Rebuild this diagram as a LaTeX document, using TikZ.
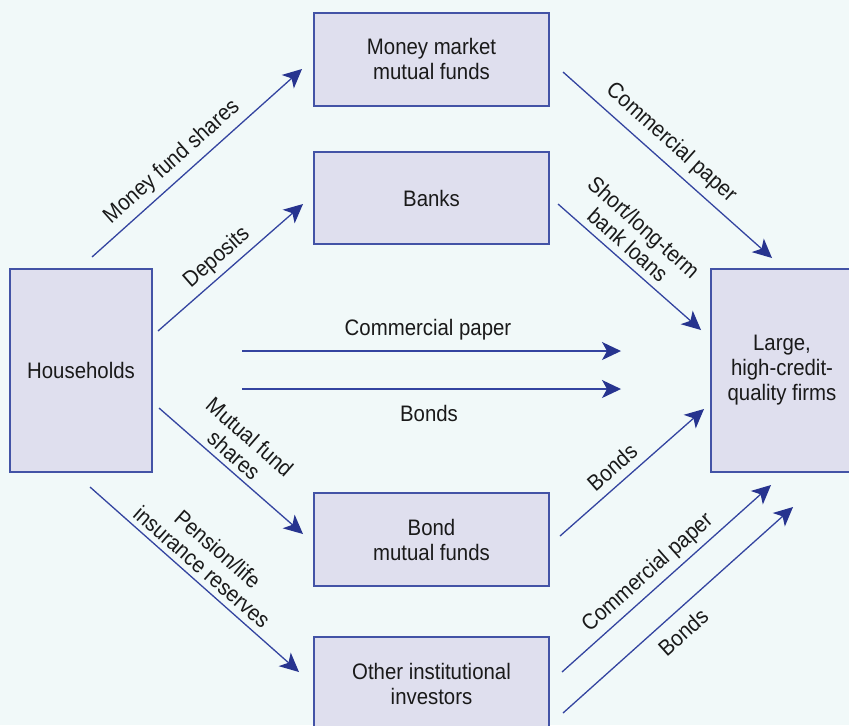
\documentclass[tikz,border=0pt]{standalone}
\usepackage{fontspec}
\setmainfont[FakeStretch=0.91]{Liberation Sans}
\usetikzlibrary{arrows.meta}
\definecolor{bgc}{HTML}{F1F9F9}
\definecolor{boxfill}{HTML}{DFDFEE}
\definecolor{boxline}{HTML}{4353A6}
\definecolor{arrline}{HTML}{3444A0}
\definecolor{arrhead}{HTML}{27348F}
\definecolor{txt}{HTML}{1A1A1A}
\begin{document}
\begin{tikzpicture}[x=0.5pt,y=-0.5pt,
  every node/.style={font=\fontsize{11.2}{12.5}\selectfont, text=txt},
  box/.style={draw=boxline,fill=boxfill,line width=1pt,align=center,inner sep=0pt},
  midbox/.style={box,minimum width=117.5pt},
  flow/.style={draw=arrline,line width=0.65pt,-{Stealth[length=9.5pt,width=9pt,inset=2.5pt,color=arrhead]}},
  lbl/.style={align=center,inner sep=0pt,font=\fontsize{11.2}{12}\selectfont}]
\useasboundingbox (0,0) rectangle (849,725);
\fill[bgc] (0,0) rectangle (849,725);
\clip (0,0) rectangle (849,725);

% boxes
\node[box,minimum width=71pt,minimum height=101.5pt] (hh) at (81,370.5) {Households};
\node[midbox,minimum height=46.75pt] (mm) at (431.5,59.25) {Money market\\mutual funds};
\node[midbox,minimum height=46pt] (banks) at (431.5,198) {Banks};
\node[midbox,minimum height=46.5pt] (bond) at (431.5,539.5) {Bond\\mutual funds};
\node[midbox,minimum height=46.5pt] (other) at (431.5,683.5) {Other institutional\\investors};
\node[box,minimum width=71pt,minimum height=101.5pt] (large) at (782,370.5) {Large,\\high-credit-\\quality firms};

% arrow end points
\coordinate (a1s) at (92,257);  \coordinate (a1e) at (302,69);
\coordinate (a2s) at (158,331); \coordinate (a2e) at (303,204);
\coordinate (a3s) at (242,351); \coordinate (a3e) at (621,351);
\coordinate (a4s) at (242,389); \coordinate (a4e) at (621,389);
\coordinate (a5s) at (159,408); \coordinate (a5e) at (303,534);
\coordinate (a6s) at (90,487);  \coordinate (a6e) at (299,672);
\coordinate (a7s) at (563,72);  \coordinate (a7e) at (772,258);
\coordinate (a8s) at (558,204); \coordinate (a8e) at (701,330);
\coordinate (a9s) at (560,536); \coordinate (a9e) at (704,409);
\coordinate (a10s) at (562,672); \coordinate (a10e) at (771,485);
\coordinate (a11s) at (563,713); \coordinate (a11e) at (793,507);

% arrows
\draw[flow] (a1s) -- (a1e);
\draw[flow] (a2s) -- (a2e);
\draw[flow] (a3s) -- (a3e);
\draw[flow] (a4s) -- (a4e);
\draw[flow] (a5s) -- (a5e);
\draw[flow] (a6s) -- (a6e);
\draw[flow] (a7s) -- (a7e);
\draw[flow] (a8s) -- (a8e);
\draw[flow] (a9s) -- (a9e);
\draw[flow] (a10s) -- (a10e);
\draw[flow] (a11s) -- (a11e);

% labels
\node[lbl,rotate=41.8] (l1) at (172,162) {Money fund shares};
\node[lbl,rotate=41.2] (l2) at (217,258) {Deposits};
\node[lbl] (l3) at (428,330) {Commercial paper};
\node[lbl] (l4) at (429,413) {Bonds};
\node[lbl,rotate=-41.1] (l5) at (242,446) {Mutual fund\\shares};
\node[lbl,rotate=-41.1] (l6) at (210,558) {Pension/life\\insurance reserves};
\node[lbl,rotate=-41.8] (l7) at (671,143) {Commercial paper};
\node[lbl,rotate=-41.6] (l8) at (636,236) {Short/long-term\\bank loans};
\node[lbl,rotate=41.4] (l9) at (612,467) {Bonds};
\node[lbl,rotate=41.7] (l10) at (648,573) {Commercial paper};
\node[lbl,rotate=41.8] (l11) at (683,632) {Bonds};
\end{tikzpicture}
\end{document}
